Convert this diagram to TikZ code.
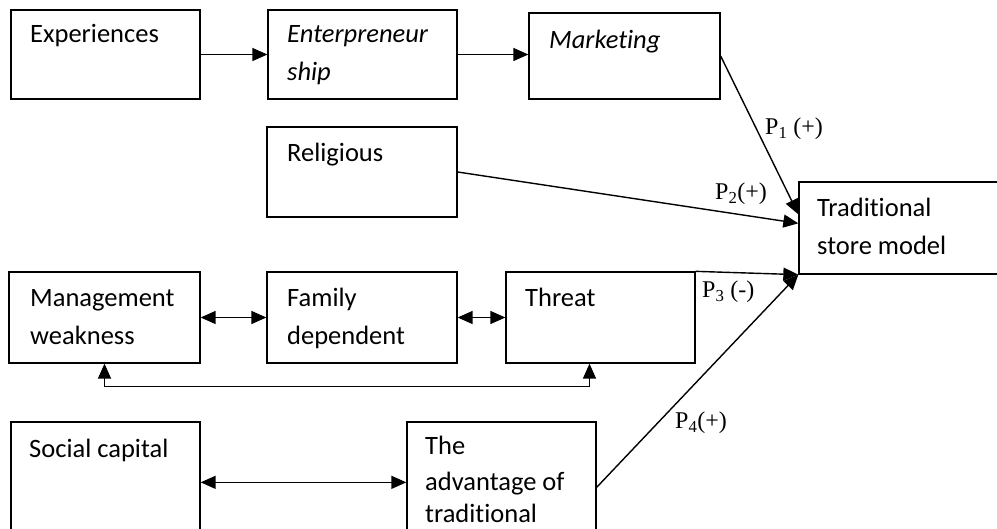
\documentclass[tikz,border=0pt]{standalone}
\usepackage{fontspec}
\setmainfont[Ligatures={NoCommon}]{Carlito}
\newfontfamily\pfont{Liberation Serif}
\usetikzlibrary{arrows.meta}
\begin{document}
\begin{tikzpicture}[x=1pt,y=-1pt,
  box/.style={draw=black, line width=1.3pt, inner sep=0pt},
  lbl/.style={anchor=base west, inner sep=0pt, font=\fontsize{26.5}{30}\selectfont},
  plab/.style={anchor=base west, inner sep=0pt, font=\pfont\fontsize{24}{28}\selectfont},
  tip/.tip={Triangle[length=15pt,width=13pt]},
  con/.style={line width=1.4pt, -tip},
  bi/.style={line width=1.4pt, tip-tip}]
\useasboundingbox (0,0) rectangle (997,529);
\clip (0,0) rectangle (997,529);
% boxes
\node[box, minimum width=189pt, minimum height=89pt] (exp) at (105.5,54.5) {};
\node[box, minimum width=189pt, minimum height=89pt] (ent) at (362.5,54.5) {};
\node[box, minimum width=191pt, minimum height=86pt] (mkt) at (624.5,56) {};
\node[box, minimum width=190pt, minimum height=90pt] (rel) at (362,172) {};
\node[box, minimum width=213pt, minimum height=92pt] (tsm) at (905.5,228) {};
\node[box, minimum width=191pt, minimum height=91pt] (mw) at (104.5,317.5) {};
\node[box, minimum width=190pt, minimum height=91pt] (fd) at (362,317.5) {};
\node[box, minimum width=189pt, minimum height=91pt] (thr) at (600.5,317.5) {};
\node[box, minimum width=189pt, minimum height=138pt] (sc) at (105.5,491) {};
\node[box, minimum width=189pt, minimum height=138pt] (adv) at (501.5,491) {};
% texts
\node[lbl] (expt) at (30,43) {Experiences};
\node[lbl] (entt1) at (287,43) {\itshape Enterpreneur};
\node[lbl] (entt2) at (287,81) {\itshape ship};
\node[lbl] (mktt) at (549,49) {\itshape Marketing};
\node[lbl] (relt) at (287,162) {Religious};
\node[lbl] (tsmt1) at (817,217) {Traditional};
\node[lbl] (tsmt2) at (817,255) {store model};
\node[lbl] (mwt1) at (30,307) {Management};
\node[lbl] (mwt2) at (30,345) {weakness};
\node[lbl] (fdt1) at (287,307) {Family};
\node[lbl] (fdt2) at (287,345) {dependent};
\node[lbl] (thrt) at (525,307) {Threat};
\node[lbl] (sct) at (29,458) {Social capital};
\node[lbl] (advt1) at (425,455) {The};
\node[lbl] (advt2) at (425,490) {advantage of};
\node[lbl] (advt3) at (425,522) {traditional};
% labels
\node[plab] (p1) at (765,135) {P\textsubscript{1} (+)};
\node[plab] (p2) at (715,200) {P\textsubscript{2}(+)};
\node[plab] (p3) at (702,298) {P\textsubscript{3} (-)};
\node[plab] (p4) at (675,429) {P\textsubscript{4}(+)};
% connectors
\draw[con] (exp.east) -- (ent.west);
\draw[con] (ent.east) -- (ent.east -| mkt.west);
\draw[con] (mkt.east) -- ([yshift=-33pt]tsm.north west);
\draw[con] (rel.east) -- ([yshift=-42pt]tsm.north west);
\draw[con] (thr.north east) -- (tsm.south west);
\draw[con] ([yshift=-66pt]adv.north east) -- (tsm.south west);
\draw[bi] (mw.east) -- (fd.west);
\draw[bi] (fd.east) -- (thr.west);
\draw[bi] (mw.south) -- ++(0,23) -| ([xshift=-11pt]thr.south);
\draw[bi] ([yshift=-61pt]sc.north east) -- ([yshift=-61pt]adv.north west);
\end{tikzpicture}
\end{document}
